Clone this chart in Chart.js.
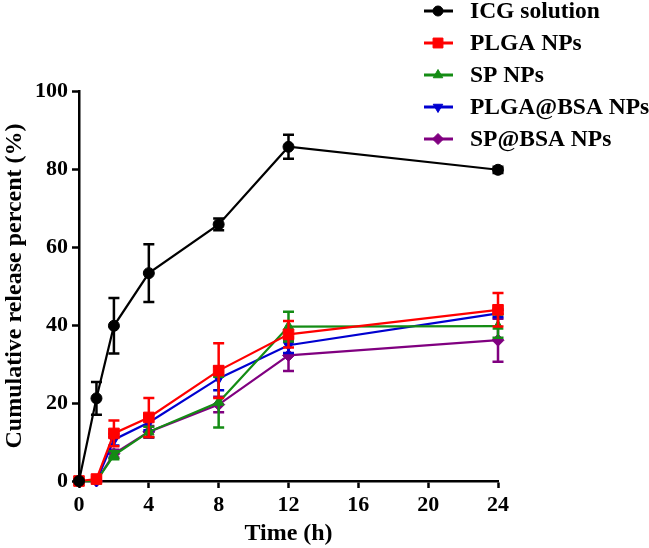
<!DOCTYPE html>
<html>
<head>
<meta charset="utf-8">
<script src="https://cdn.jsdelivr.net/npm/chart.js@4.4.0/dist/chart.umd.min.js"></script>
<style>
  html, body { margin: 0; padding: 0; background: #fff; }
  #wrap { position: relative; width: 649px; height: 548px; }
</style>
</head>
<body>
<div id="wrap"><canvas id="release-chart"></canvas></div>
<script>
// Values (mean and +/- error)
var timePoints = [0, 1, 2, 4, 8, 12, 24];
var seriesNames = ['ICG solution', 'PLGA NPs', 'SP NPs', 'PLGA@BSA NPs', 'SP@BSA NPs'];
var icgValues = [0, 21.2, 39.8, 53.3, 65.8, 85.7, 79.8];
var icgErrors = [0, 4.2, 7.1, 7.4, 1.5, 3.1, 0.8];
var plgaValues = [0, 0.5, 12.2, 16.3, 28.3, 37.6, 43.9];
var plgaErrors = [0, 0.5, 3.3, 5.0, 7.0, 3.4, 4.3];
var spValues = [0, 0, 6.6, 12.6, 20.2, 39.6, 39.7];
var spErrors = [0, 0.3, 1.0, 1.3, 6.5, 3.8, 3.0];
var plgaBsaValues = [0, 0, 10.6, 15.0, 26.3, 34.8, 43.0];
var plgaBsaErrors = [0, 0.3, 1.5, 2.0, 3.0, 2.0, 1.0];
var spBsaValues = [0, 0, 7.0, 12.6, 19.6, 32.2, 36.1];
var spBsaErrors = [0, 0.3, 1.0, 1.5, 2.0, 4.0, 5.5];
var xTicks = [0, 4, 8, 12, 16, 20, 24];
var yTicks = [0, 20, 40, 60, 80, 100];

var serifBold = '"Liberation Serif", "Times New Roman", serif';

function toPoints(values) {
  return values.map(function(v, i) { return {x: timePoints[i], y: v}; });
}

function makeSeries(name, values, errors, color, style, radius, rotation) {
  return {
    label: name,
    data: toPoints(values),
    errors: errors,
    borderColor: color,
    backgroundColor: color,
    borderWidth: 2.2,
    pointStyle: style,
    pointRadius: radius,
    pointRotation: rotation || 0,
    pointBorderWidth: 1,
    pointBackgroundColor: color,
    pointBorderColor: color,
    tension: 0,
    clip: false
  };
}

// error bars, drawn right after each dataset so layering follows the datasets
var errorBarPlugin = {
  id: 'errorBars',
  afterDatasetDraw: function(chart, args) {
    var ds = chart.data.datasets[args.index];
    var xs = chart.scales.x, ys = chart.scales.y;
    var ctx = chart.ctx;
    var cap = 5.5;
    ctx.save();
    ctx.strokeStyle = ds.borderColor;
    ctx.lineWidth = 2.5;
    ds.errors.forEach(function(err, j) {
      if (!err) return;
      var px = xs.getPixelForValue(timePoints[j]);
      var top = ys.getPixelForValue(ds.data[j].y + err);
      var bot = ys.getPixelForValue(Math.max(0, ds.data[j].y - err));
      ctx.beginPath();
      ctx.moveTo(px, top); ctx.lineTo(px, bot);
      ctx.moveTo(px - cap, top); ctx.lineTo(px + cap, top);
      ctx.moveTo(px - cap, bot); ctx.lineTo(px + cap, bot);
      ctx.stroke();
    });
    ctx.restore();
  }
};

// legend in the top right corner, above the plot
var sideLegendPlugin = {
  id: 'sideLegend',
  afterDraw: function(chart) {
    var ctx = chart.ctx;
    chart.data.datasets.forEach(function(ds, i) {
      var y = 11 + i * 32;
      ctx.save();
      ctx.strokeStyle = ds.borderColor;
      ctx.fillStyle = ds.borderColor;
      ctx.lineWidth = 3;
      ctx.beginPath();
      ctx.moveTo(424, y); ctx.lineTo(453, y);
      ctx.stroke();
      ctx.lineWidth = 1;
      Chart.helpers.drawPoint(ctx, {
        pointStyle: ds.pointStyle,
        radius: ds.pointRadius - 0.5,
        rotation: ds.pointRotation,
        borderWidth: 1
      }, 438, y);
      ctx.fillStyle = '#000';
      ctx.font = 'bold 23.5px ' + serifBold;
      ctx.textBaseline = 'middle';
      ctx.textAlign = 'left';
      ctx.fillText(ds.label, 470, y + 1);
      ctx.restore();
    });
  }
};

var ctx = document.getElementById('release-chart').getContext('2d');
var releaseChart = new Chart(ctx, {
  type: 'line',
  data: {
    datasets: [
      makeSeries(seriesNames[0], icgValues, icgErrors, '#000000', 'circle', 5.5),
      makeSeries(seriesNames[1], plgaValues, plgaErrors, '#ff0000', 'rect', 7.5),
      makeSeries(seriesNames[2], spValues, spErrors, '#148c14', 'triangle', 6),
      makeSeries(seriesNames[3], plgaBsaValues, plgaBsaErrors, '#0000d0', 'triangle', 6, 180),
      makeSeries(seriesNames[4], spBsaValues, spBsaErrors, '#800080', 'rectRot', 6)
    ]
  },
  options: {
    responsive: true,
    maintainAspectRatio: false,
    animation: false,
    layout: {
      padding: { top: 91, right: 151, left: 0, bottom: 0 }
    },
    scales: {
      x: {
        type: 'linear',
        min: 0,
        max: 24,
        afterBuildTicks: function(scale) {
          scale.ticks = xTicks.map(function(v) { return {value: v}; });
        },
        afterFit: function(scale) { scale.height = 67; },
        border: { display: true, color: '#000', width: 2.5 },
        grid: { display: true, drawOnChartArea: false, tickLength: 7, tickWidth: 2.5, tickColor: '#000' },
        ticks: { color: '#000', padding: 4, font: { family: serifBold, size: 22, weight: 'bold' } },
        title: {
          display: true,
          text: 'Time (h)',
          color: '#000',
          padding: { top: 0, bottom: 1 },
          font: { family: serifBold, size: 24, weight: 'bold', lineHeight: 1.1 }
        }
      },
      y: {
        min: 0,
        max: 100,
        afterBuildTicks: function(scale) {
          scale.ticks = yTicks.map(function(v) { return {value: v}; });
        },
        afterFit: function(scale) { scale.width = 79; },
        border: { display: true, color: '#000', width: 2.5 },
        grid: { display: true, drawOnChartArea: false, tickLength: 7, tickWidth: 2.5, tickColor: '#000' },
        ticks: { color: '#000', padding: 4, font: { family: serifBold, size: 22, weight: 'bold' } },
        title: {
          display: true,
          text: 'Cumulative release percent (%)',
          color: '#000',
          padding: { top: 2, bottom: 0 },
          font: { family: serifBold, size: 24, weight: 'bold', lineHeight: 1.1 }
        }
      }
    },
    plugins: {
      legend: { display: false },
      tooltip: { enabled: false }
    }
  },
  plugins: [errorBarPlugin, sideLegendPlugin]
});
</script>
</body>
</html>
